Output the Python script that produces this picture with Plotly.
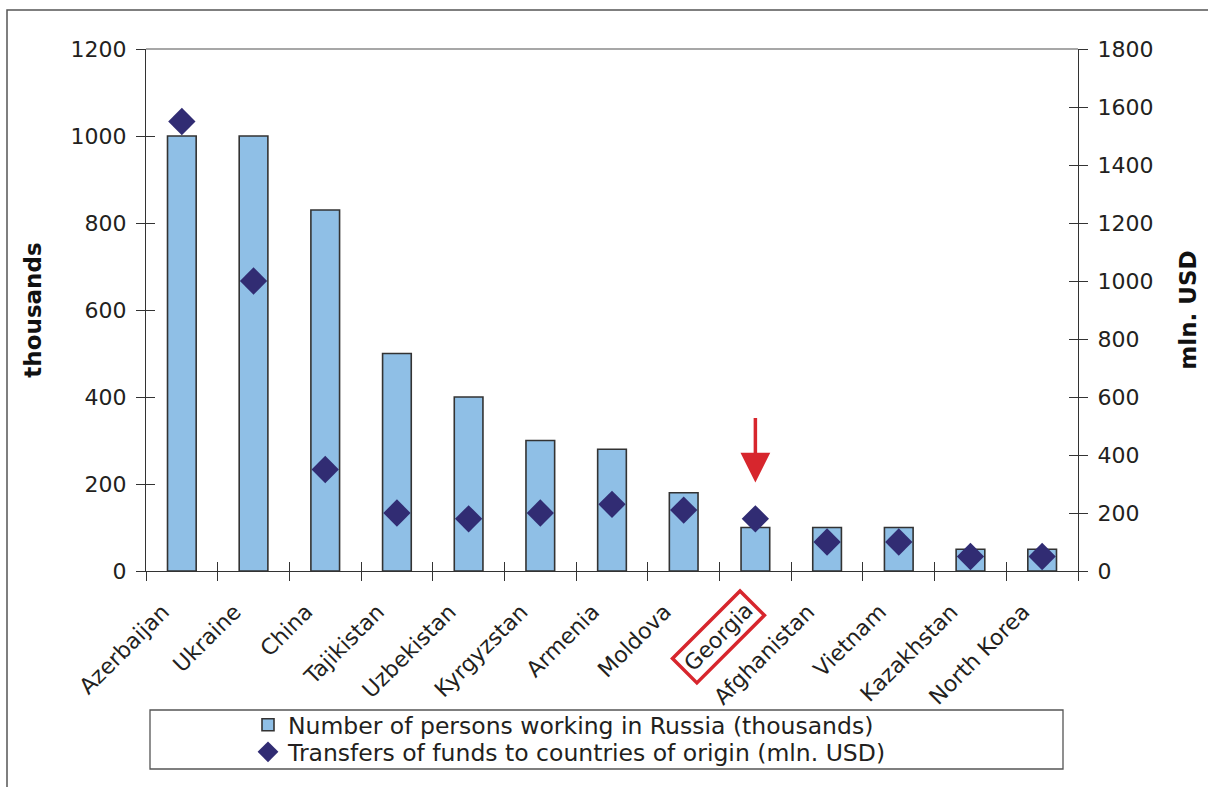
import plotly.graph_objects as go

# Labour migrants in Russia by country of origin and their remittances
countries = ["Azerbaijan", "Ukraine", "China", "Tajikistan", "Uzbekistan",
             "Kyrgyzstan", "Armenia", "Moldova", "Georgia", "Afghanistan",
             "Vietnam", "Kazakhstan", "North Korea"]
workers_thousands = [1000, 1000, 830, 500, 400, 300, 280, 180, 100, 100, 100, 50, 50]
transfers_mln_usd = [1550, 1000, 350, 200, 180, 200, 230, 210, 180, 100, 100, 50, 50]

left_ticks = [0, 200, 400, 600, 800, 1000, 1200]
right_ticks = [0, 200, 400, 600, 800, 1000, 1200, 1400, 1600, 1800]

highlight = "Georgia"
tick_labels = ["" if c == highlight else c for c in countries]

FONT = "DejaVu Sans"
TXT = "#231f20"
AX = "#333333"
BAR_FILL = "#8fbfe6"
DIAMOND = "#312c73"
RED = "#d7262d"

W, H = 1208, 787
ML, MR, MT, MB = 146, 130, 49, 216
PW, PH = W - ML - MR, H - MT - MB


def px_x(p):
    return (p - ML) / PW


def px_y(p):
    return (H - MB - p) / PH


fig = go.Figure()

fig.add_trace(go.Bar(
    x=countries, y=workers_thousands,
    name="Number of persons working in Russia (thousands)",
    marker=dict(color=BAR_FILL, line=dict(color=AX, width=1.6)),
    xaxis="x", yaxis="y", legend="legend",
))
fig.add_trace(go.Scatter(
    x=countries, y=transfers_mln_usd,
    name="Transfers of funds to countries of origin (mln. USD)",
    mode="markers",
    marker=dict(symbol="diamond", size=21, color=DIAMOND, line=dict(width=0)),
    xaxis="x", yaxis="y2", legend="legend2",
))
# invisible companions so the inner halves of the crossing ticks get drawn
fig.add_trace(go.Scatter(x=countries, y=workers_thousands, mode="markers",
                         marker=dict(opacity=0), showlegend=False,
                         hoverinfo="skip", xaxis="x2", yaxis="y3"))
fig.add_trace(go.Scatter(x=countries, y=transfers_mln_usd, mode="markers",
                         marker=dict(opacity=0), showlegend=False,
                         hoverinfo="skip", xaxis="x2", yaxis="y4"))

tickfont = dict(family=FONT, size=22, color=TXT)
catfont = dict(family=FONT, size=22, color=TXT)
titlefont = dict(family=FONT, size=23, color="#111111", weight="bold")
legendfont = dict(family=FONT, size=23.5, color=TXT)


def legend_row(y_px):
    return dict(x=px_x(248), y=px_y(y_px), xanchor="left", yanchor="middle",
                bgcolor="rgba(0,0,0,0)", borderwidth=0, font=legendfont,
                itemwidth=30)


fig.update_layout(
    width=W, height=H,
    margin=dict(l=ML, r=MR, t=MT, b=MB, autoexpand=False),
    paper_bgcolor="white", plot_bgcolor="white",
    bargap=0.6,
    showlegend=True,
    legend=legend_row(725),
    legend2=legend_row(752),
    xaxis=dict(
        type="category", categoryorder="array", categoryarray=countries,
        range=[-0.5, len(countries) - 0.5], automargin=False,
        tickmode="array", tickvals=countries, ticktext=tick_labels,
        tickson="boundaries", ticks="outside", ticklen=9, tickwidth=1.3,
        tickcolor=AX, showline=True, linecolor=AX, linewidth=1.3,
        showgrid=False, zeroline=False, tickangle=-45, tickfont=catfont,
        ticklabelstandoff=18, ticklabelshift=-19,
    ),
    xaxis2=dict(
        type="category", overlaying="x", matches="x", automargin=False,
        tickson="boundaries", ticks="inside", ticklen=9, tickwidth=1.3,
        tickcolor=AX, showticklabels=False, showline=False,
        showgrid=False, zeroline=False,
    ),
    yaxis=dict(
        range=[0, 1200], tickvals=left_ticks, automargin=False,
        ticks="outside", ticklen=9, tickwidth=1.3, tickcolor=AX,
        showline=True, linecolor=AX, linewidth=1.3,
        showgrid=False, zeroline=False, tickfont=tickfont,
        ticklabelstandoff=5,
        title=dict(text="thousands", font=titlefont, standoff=22),
    ),
    yaxis3=dict(
        overlaying="y", matches="y", side="left", tickvals=left_ticks,
        automargin=False,
        ticks="inside", ticklen=9, tickwidth=1.3, tickcolor=AX,
        showticklabels=False, showline=False, showgrid=False, zeroline=False,
    ),
    yaxis2=dict(
        overlaying="y", side="right", range=[0, 1800], tickvals=right_ticks,
        automargin=False,
        ticks="outside", ticklen=9, tickwidth=1.3, tickcolor=AX,
        showline=True, linecolor=AX, linewidth=1.3,
        showgrid=False, zeroline=False, tickfont=tickfont,
        ticklabelstandoff=5,
        title=dict(text="mln. USD", font=titlefont, standoff=27),
    ),
    yaxis4=dict(
        overlaying="y", matches="y2", side="right", tickvals=right_ticks,
        automargin=False,
        ticks="inside", ticklen=9, tickwidth=1.3, tickcolor=AX,
        showticklabels=False, showline=False, showgrid=False, zeroline=False,
    ),
    shapes=[
        # outer frame of the figure
        dict(type="rect", xref="paper", yref="paper",
             x0=px_x(7), x1=px_x(1260), y0=px_y(840), y1=px_y(10),
             line=dict(color="#555555", width=1.5), fillcolor="rgba(0,0,0,0)",
             layer="below"),
        # top border of the plotting area
        dict(type="line", xref="paper", yref="paper", x0=0, x1=1, y0=1, y1=1,
             line=dict(color="#8a8a8a", width=1.3)),
        # legend box
        dict(type="rect", xref="paper", yref="paper",
             x0=px_x(150), x1=px_x(1063), y0=px_y(769), y1=px_y(710),
             line=dict(color="#555555", width=1.3), fillcolor="rgba(0,0,0,0)"),
    ],
    annotations=[
        # highlighted category label
        dict(x=highlight, xref="x", y=0, yref="y", text=highlight,
             showarrow=False, textangle=-45, xanchor="center", yanchor="middle",
             xshift=-37, yshift=-66, font=catfont,
             bordercolor=RED, borderwidth=3.5, borderpad=3),
        # arrow pointing at the highlighted country
        dict(x=highlight, xref="x", y=transfers_mln_usd[countries.index(highlight)] + 125,
             yref="y2", text="", showarrow=True, ax=0, ay=-66,
             arrowcolor=RED, arrowwidth=3.5, arrowhead=2, arrowsize=1.7),
    ],
)

fig.write_html("out.html")
